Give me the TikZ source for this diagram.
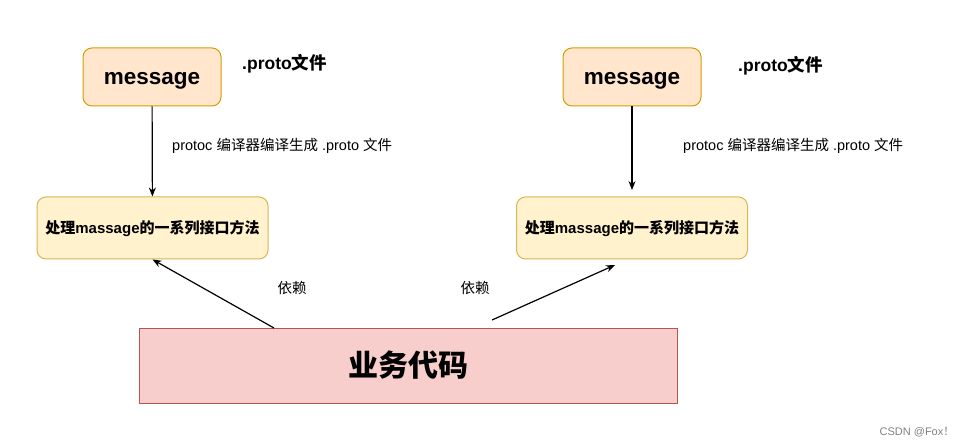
\documentclass[tikz,border=0pt]{standalone}
\usepackage{fontspec}
\setmainfont{Liberation Sans}
\newfontfamily\cjk{Noto Sans CJK SC}
\usetikzlibrary{arrows.meta,calc}
\definecolor{msgfill}{HTML}{FFE6CC}
\definecolor{msgdraw}{HTML}{D79B00}
\definecolor{procfill}{HTML}{FFF2CC}
\definecolor{procdraw}{HTML}{D6B656}
\definecolor{bizfill}{HTML}{F8CECC}
\definecolor{bizdraw}{HTML}{B85450}
\tikzset{
  msgbox/.style={draw=msgdraw, fill=msgfill, rounded corners=9pt, line width=1pt,
    minimum width=138pt, minimum height=58pt, inner sep=0pt,
    font=\fontsize{22.5}{26}\selectfont\bfseries},
  procbox/.style={draw=procdraw, fill=procfill, rounded corners=9pt, line width=1pt,
    minimum width=231pt, minimum height=62pt, inner sep=0pt,
    font=\fontsize{15}{18}\selectfont\bfseries},
  bizbox/.style={draw=bizdraw, fill=bizfill, line width=1pt,
    minimum width=538pt, minimum height=75pt, inner sep=0pt,
    font=\fontsize{30}{34}\selectfont\bfseries},
  lbl/.style={inner sep=0pt, font=\fontsize{14.5}{17}\selectfont},
  ttl/.style={inner sep=0pt, font=\fontsize{17.5}{20}\selectfont\bfseries},
  arr/.style={line width=1.2pt, -{Stealth[length=9pt,width=7pt]}},
}
\begin{document}
\begin{tikzpicture}[x=1pt,y=-1pt]
\useasboundingbox (0,0) rectangle (966,446);
\node[msgbox] (m1) at (152,77) {\raisebox{-8pt}[0pt][0pt]{message}};
\node[msgbox] (m2) at (632,77) {\raisebox{-8pt}[0pt][0pt]{message}};
\node[ttl, anchor=west] (t1) at (242,63.5) {.proto{\cjk\bfseries 文件}};
\node[ttl, anchor=west] (t2) at (738,66) {.proto{\cjk\bfseries 文件}};
\node[procbox] (p1) at (152.5,228) {\raisebox{-6pt}[0pt][0pt]{{\cjk\bfseries 处理}massage{\cjk\bfseries 的一系列接口方法}}};
\node[procbox] (p2) at (632,228) {\raisebox{-6pt}[0pt][0pt]{{\cjk\bfseries 处理}massage{\cjk\bfseries 的一系列接口方法}}};
\node[bizbox] (biz) at (408,365.5) {\cjk\bfseries 业务代码};
\node[lbl, anchor=west] (l1) at (172,146) {protoc {\cjk 编译器编译生成} .proto {\cjk 文件}};
\node[lbl, anchor=west] (l2) at (683,146) {protoc {\cjk 编译器编译生成} .proto {\cjk 文件}};
\node[lbl] (d1) at (292,288) {\cjk 依赖};
\node[lbl] (d2) at (475,288) {\cjk 依赖};
\node[inner sep=0pt, text=gray, font=\fontsize{11}{13}\selectfont] (csdn) at (917,432) {CSDN @Fox{\cjk ！}};
\coordinate (s1) at (274,328);
\coordinate (s2) at (492,320);
\coordinate (e2) at (615,265);
\draw[arr] (m1) -- (p1);
\draw[arr] (m2.south) -- (m2.south |- 0,190);
\draw[arr] (s1) -- (p1.south);
\draw[arr] (s2) -- (e2);
\end{tikzpicture}
\end{document}
